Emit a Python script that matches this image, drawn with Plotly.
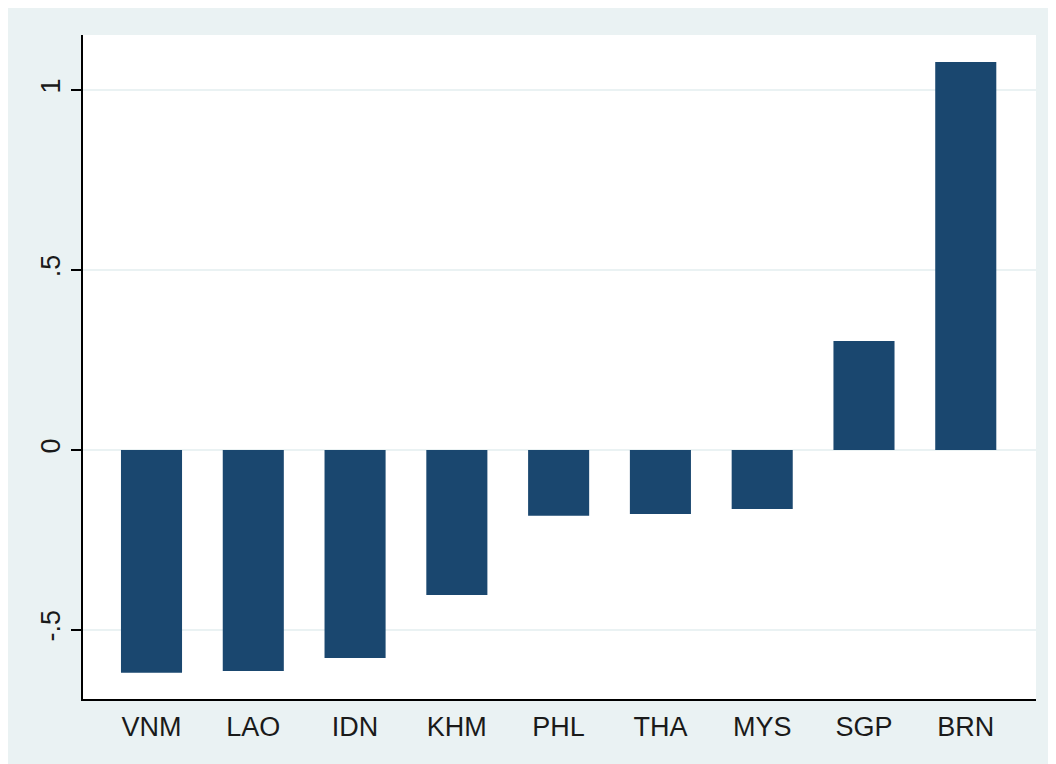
import plotly.graph_objects as go

countries = ["VNM", "LAO", "IDN", "KHM", "PHL", "THA", "MYS", "SGP", "BRN"]
values = [-0.619, -0.614, -0.578, -0.403, -0.183, -0.178, -0.164, 0.303, 1.078]
ytick_vals = [-0.5, 0, 0.5, 1]
ytick_text = ["-.5", "0", ".5", "1"]

BG = "#EAF2F3"
BAR = "#1A476F"

fig = go.Figure()
fig.add_trace(go.Bar(
    x=countries, y=values, width=0.6,
    marker=dict(color=BAR, line=dict(width=0)),
))

fig.update_layout(
    width=1048, height=756,
    margin=dict(l=75, r=20, t=27, b=65),
    paper_bgcolor=BG,
    plot_bgcolor="white",
    showlegend=False,
    font=dict(family="Liberation Sans, Arial, sans-serif", size=27, color="#1a1a1a"),
    xaxis=dict(
        range=[-0.673, 8.69],
        showgrid=False, zeroline=False,
        showline=True, linecolor="black", linewidth=2,
        ticks="", tickfont=dict(size=27),
        ticklabelstandoff=3,
    ),
    yaxis=dict(
        range=[-0.692, 1.153],
        tickvals=ytick_vals, ticktext=ytick_text,
        tickangle=-90,
        showgrid=True, gridcolor=BG, gridwidth=2,
        zeroline=False,
        showline=True, linecolor="black", linewidth=2,
        ticks="outside", ticklen=10, tickwidth=2, tickcolor="black",
        tickfont=dict(size=27),
    ),
)

fig.write_html("out.html")
